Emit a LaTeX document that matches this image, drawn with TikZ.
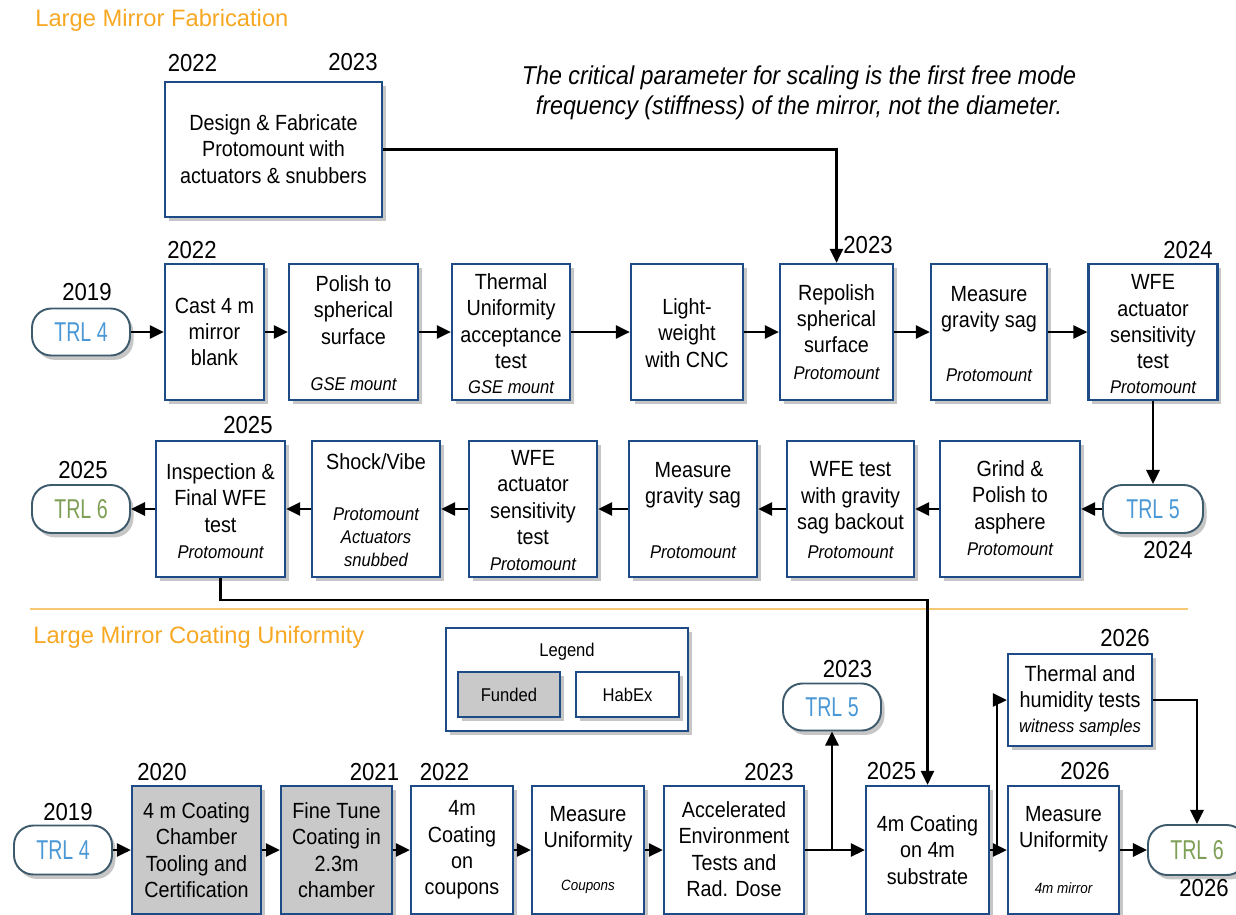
\documentclass[tikz,border=0pt]{standalone}
\usepackage{fontspec}
\setmainfont{Liberation Sans}[FakeStretch=0.9]
\newfontfamily\widefont{Liberation Sans}
\newfontfamily\trlfont{Liberation Sans}[FakeStretch=0.72]
\usetikzlibrary{arrows.meta,shadows}

\definecolor{boxblue}{HTML}{1E4A86}
\definecolor{pilledge}{HTML}{3E5B6E}
\definecolor{trlblue}{HTML}{4A98D6}
\definecolor{trlgreen}{HTML}{7E9F55}
\definecolor{sectorange}{HTML}{F7A823}
\definecolor{ruleorange}{HTML}{F6C873}
\definecolor{fundgray}{HTML}{C9C9C9}

\tikzset{
  sz/.style 2 args={minimum width=#1*0.02cm, minimum height=#2*0.02cm},
  shade box/.style={drop shadow={shadow xshift=2pt, shadow yshift=-2.5pt, fill=black!50, opacity=0.45}},
  box/.style={draw=boxblue, line width=1.3pt, fill=white, inner sep=0pt, shade box},
  funded/.style={box, fill=fundgray},
  pill/.style={draw=pilledge, line width=1.1pt, fill=white, rounded corners=11pt, inner sep=0pt,
    shade box, font=\trlfont\fontsize{15.5}{15.5}\selectfont},
  txt/.style={align=center, font=\fontsize{12.5}{15}\selectfont, inner sep=0pt},
  sub/.style={align=center, font=\itshape\fontsize{10.5}{13}\selectfont, inner sep=0pt},
  small/.style={font=\itshape\fontsize{8.5}{10}\selectfont, inner sep=0pt},
  legtxt/.style={font=\fontsize{10.5}{12}\selectfont, inner sep=0pt},
  yr/.style={font=\fontsize{14}{14}\selectfont, inner sep=0pt},
  sect/.style={font=\widefont\fontsize{13.5}{14}\selectfont, text=sectorange, anchor=west, inner sep=0pt},
  note/.style={align=center, font=\itshape\fontsize{14.7}{17}\selectfont, inner sep=0pt},
  arr/.style={line width=1.35pt, -{Triangle[length=8pt,width=7.5pt]}},
}

\begin{document}
\begin{tikzpicture}[x=0.02cm, y=-0.02cm]
\useasboundingbox (0,0) rectangle (1236,914);

% ---------------- Large Mirror Fabrication ----------------
\node[sect] (sec-fab) at (35,20) {Large Mirror Fabrication};

\node[box, sz={217}{135}] (dsg) at (273.5,149.5) {};
\node[txt] (dsg-t) at (273.5,149) {Design \& Fabricate\\Protomount with\\actuators \& snubbers};
\node[yr] (y-dsg-a) at (192.5,63) {2022};
\node[yr] (y-dsg-b) at (353,62) {2023};

\node[note] (crit) at (799,93) {The critical parameter for scaling is the first free mode\\frequency (stiffness) of the mirror, not the diameter.};

% first row, left to right
\node[pill, sz={98}{47}, text=trlblue] (trl4a) at (81,332) {TRL 4};
\node[yr] (y-trl4a) at (87,292) {2019};

\node[box, sz={99}{136}] (cast) at (214.5,332) {};
\node[txt] (cast-t) at (214.5,332) {Cast 4 m\\mirror\\blank};
\node[yr] (y-cast) at (192,250) {2022};

\node[box, sz={129}{136}] (pol) at (353.5,332) {};
\node[txt] (pol-t) at (353.5,310) {Polish to\\spherical\\surface};
\node[sub] (pol-s) at (353.5,384) {GSE mount};

\node[box, sz={118}{136}] (thm) at (511,332) {};
\node[txt] (thm-t) at (511,321) {Thermal\\Uniformity\\acceptance\\test};
\node[sub] (thm-s) at (511,387) {GSE mount};

\node[box, sz={112}{136}] (lw) at (687,332) {};
\node[txt] (lw-t) at (687,333) {Light-\\weight\\with CNC};

\node[box, sz={113}{136}] (rep) at (836.5,332) {};
\node[txt] (rep-t) at (836.5,318.5) {Repolish\\spherical\\surface};
\node[sub] (rep-s) at (836.5,373) {Protomount};
\node[yr] (y-rep) at (868,245) {2023};

\node[box, sz={116}{136}] (mgs) at (989,332) {};
\node[txt] (mgs-t) at (989,309) {Measure\\gravity sag};
\node[sub] (mgs-s) at (989,375) {Protomount};

\node[box, sz={129}{136}] (wfa) at (1153,332) {};
\node[txt] (wfa-t) at (1153,322) {WFE\\actuator\\sensitivity\\test};
\node[sub] (wfa-s) at (1153,387) {Protomount};
\node[yr] (y-wfa) at (1188,250) {2024};

% second row, right to left
\node[pill, sz={100}{48}, text=trlblue] (trl5a) at (1153,509) {TRL 5};
\node[yr] (y-trl5a) at (1168,550) {2024};

\node[box, sz={140}{136}] (grd) at (1010,509) {};
\node[txt] (grd-t) at (1010,497) {Grind \&\\Polish to\\asphere};
\node[sub] (grd-s) at (1010,549) {Protomount};

\node[box, sz={127}{136}] (wft) at (850.5,509) {};
\node[txt] (wft-t) at (850.5,498) {WFE test\\with gravity\\sag backout};
\node[sub] (wft-s) at (850.5,552) {Protomount};

\node[box, sz={128}{136}] (mg2) at (693,509) {};
\node[txt] (mg2-t) at (693,485) {Measure\\gravity sag};
\node[sub] (mg2-s) at (693,552) {Protomount};

\node[box, sz={128}{136}] (wa2) at (533,509) {};
\node[txt] (wa2-t) at (533,497.5) {WFE\\actuator\\sensitivity\\test};
\node[sub] (wa2-s) at (533,564) {Protomount};

\node[box, sz={128}{136}] (shk) at (376,509) {};
\node[txt] (shk-t) at (376,462) {Shock/Vibe};
\node[sub] (shk-s) at (376,537) {Protomount\\Actuators\\snubbed};

\node[box, sz={129}{136}] (ins) at (220.5,509) {};
\node[txt] (ins-t) at (220.5,498) {Inspection \&\\Final WFE\\test};
\node[sub] (ins-s) at (220.5,552) {Protomount};
\node[yr] (y-ins) at (248,425) {2025};

\node[pill, sz={98}{48}, text=trlgreen] (trl6a) at (81,509) {TRL 6};
\node[yr] (y-trl6a) at (83,470) {2025};

% connectors of the fabrication flow
\draw[arr] (dsg.east) -| (rep.north);
\draw[arr] (trl4a) -- (cast);
\draw[arr] (cast) -- (pol);
\draw[arr] (pol) -- (thm);
\draw[arr] (thm) -- (lw);
\draw[arr] (lw) -- (rep);
\draw[arr] (rep) -- (mgs);
\draw[arr] (mgs) -- (wfa);
\draw[arr] (wfa.south) -- (trl5a.north);
\draw[arr] (trl5a) -- (grd);
\draw[arr] (grd) -- (wft);
\draw[arr] (wft) -- (mg2);
\draw[arr] (mg2) -- (wa2);
\draw[arr] (wa2) -- (shk);
\draw[arr] (shk) -- (ins);
\draw[arr] (ins) -- (trl6a);

% section rule
\draw[ruleorange, line width=1.5pt] (30,609) -- (1188,609);

% ---------------- Large Mirror Coating Uniformity ----------------
\node[sect] (sec-coat) at (33,637) {Large Mirror Coating Uniformity};

% legend
\node[box, sz={242}{103}] (leg) at (567,679.5) {};
\node[legtxt] (leg-t) at (567,652) {Legend};
\node[funded, sz={102}{45}, legtxt] (leg-f) at (509,694.5) {Funded};
\node[box, sz={103}{45}, legtxt] (leg-h) at (627.5,694.5) {HabEx};

\node[pill, sz={98}{47}, text=trlblue] (trl5b) at (832,707) {TRL 5};
\node[yr] (y-trl5b) at (847.5,669) {2023};

\node[box, sz={144}{92}] (thb) at (1080,700) {};
\node[txt] (thb-t) at (1080,688.5) {Thermal and\\humidity tests};
\node[sub] (thb-s) at (1080,728) {witness samples};
\node[yr] (y-thb) at (1125,638) {2026};

% coating row
\node[pill, sz={98}{49}, text=trlblue] (trl4b) at (63,850) {TRL 4};
\node[yr] (y-trl4b) at (68,812) {2019};

\node[funded, sz={129}{128}] (chm) at (196.5,850) {};
\node[txt] (chm-t) at (196.5,850) {4 m Coating\\Chamber\\Tooling and\\Certification};
\node[yr] (y-chm) at (162,772) {2020};

\node[funded, sz={111}{128}] (fine) at (336.5,850) {};
\node[txt] (fine-t) at (336.5,850) {Fine Tune\\Coating in\\2.3m\\chamber};
\node[yr] (y-fine) at (374.5,772) {2021};

\node[box, sz={102}{128}] (cpn) at (462,850) {};
\node[txt] (cpn-t) at (462,850) {4m\\Coating\\on\\coupons};
\node[yr] (y-cpn) at (444.5,772) {2022};

\node[box, sz={112}{128}] (mu1) at (588,850) {};
\node[txt] (mu1-t) at (588,829.5) {Measure\\Uniformity};
\node[small] (mu1-s) at (588,887) {Coupons};

\node[box, sz={140}{128}] (acc) at (734,850) {};
\node[txt] (acc-t) at (734,849) {Accelerated\\Environment\\Tests and\\Rad. Dose};
\node[yr] (y-acc) at (769,772) {2023};

\node[box, sz={123}{128}] (c4) at (927.5,850) {};
\node[txt] (c4-t) at (927.5,850) {4m Coating\\on 4m\\substrate};
\node[yr] (y-c4) at (891.5,771) {2025};

\node[box, sz={111}{128}] (mu2) at (1063.5,850) {};
\node[txt] (mu2-t) at (1063.5,829) {Measure\\Uniformity};
\node[small] (mu2-s) at (1063.5,888) {4m mirror};
\node[yr] (y-mu2) at (1085,771) {2026};

\node[pill, sz={98}{50}, text=trlgreen] (trl6b) at (1197,850) {TRL 6};
\node[yr] (y-trl6b) at (1204,888) {2026};

% connectors of the coating flow
\coordinate (rail) at (0,600);
\coordinate (tap) at (997,850);
\draw[arr] (ins.south) |- (c4.north |- rail) -- (c4.north);
\draw[arr] (trl4b) -- (chm);
\draw[arr] (chm) -- (fine);
\draw[arr] (fine) -- (cpn);
\draw[arr] (cpn) -- (mu1);
\draw[arr] (mu1) -- (acc);
\draw[arr] (acc) -- (c4);
\draw[arr] (acc.east -| trl5b.south) -- (trl5b.south);
\draw[arr] (c4) -- (mu2);
\draw[arr] (tap) |- (thb.west);
\draw[arr] (thb.east) -| (trl6b.north);
\draw[arr] (mu2) -- (trl6b);

\end{tikzpicture}
\end{document}
